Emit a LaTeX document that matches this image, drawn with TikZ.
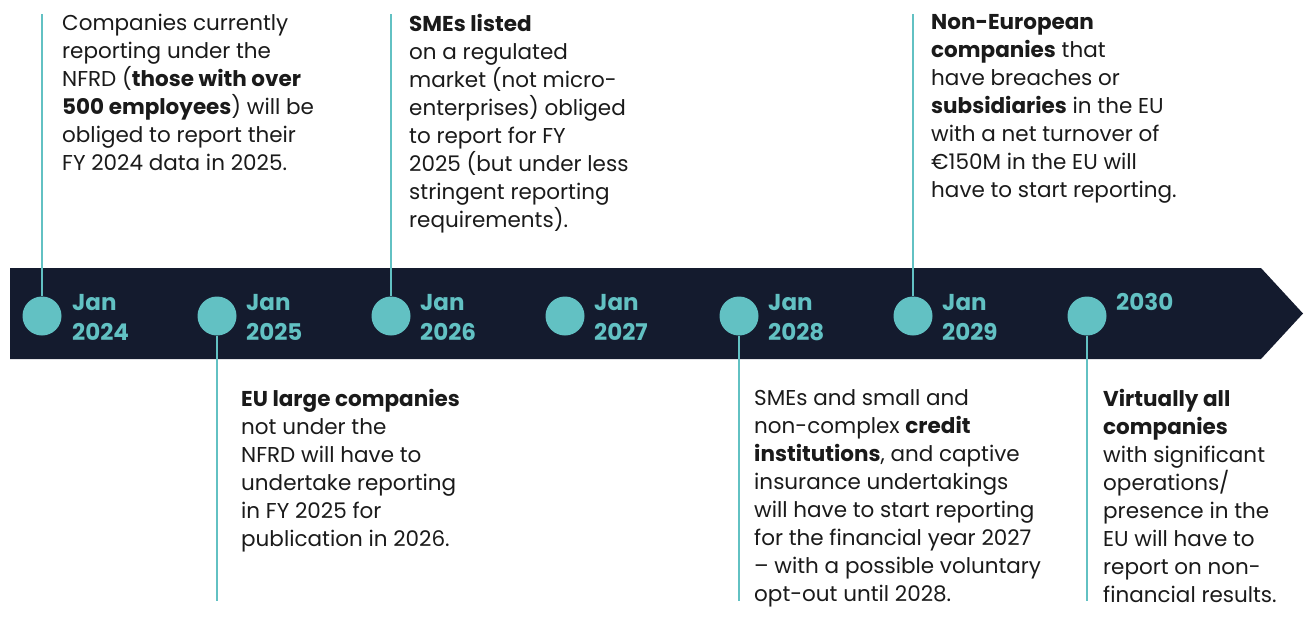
\documentclass[tikz,border=0pt]{standalone}
\usepackage{fontspec}
\setmainfont{Poppins}
\definecolor{navy}{HTML}{141B2E}
\definecolor{teal}{HTML}{62C1C3}
\definecolor{ink}{HTML}{1A1A1A}
\tikzset{
  bar/.style={fill=navy},
  dot/.style={circle,fill=teal,minimum size=39pt,inner sep=0},
  stem/.style={draw=teal,line width=2.5pt},
  year/.style={anchor=base west,align=left,inner sep=0,text=teal,
    font=\fontsize{23}{30}\selectfont\bfseries},
  note/.style={anchor=north west,align=left,inner sep=0,text=ink,
    font=\fontsize{21.5}{28}\selectfont}
}
\begin{document}
\begin{tikzpicture}[x=1pt,y=-1pt]
  \useasboundingbox (0,0) rectangle (1310,629);
  % fleche du temps
  \fill[bar] (10,268) -- (1261,268) -- (1303,313.5) -- (1261,359) -- (10,359) -- cycle;

  % points et annees
  \foreach \yr/\x in {2024/42,2025/217,2026/391,2027/565,2028/739,2029/913,2030/1087}
    \node[dot] (dot\yr) at (\x,316) {};
  \foreach \yr/\x in {2024/72,2025/246,2026/420,2027/594,2028/768,2029/942}
    \node[year] (lab\yr) at (\x,340) {Jan\\\yr};
  \node[year] (lab2030) at (1116,310) {2030};

  % tiges
  \coordinate (top2024) at (42,14);
  \coordinate (top2026) at (391,14);
  \coordinate (top2029) at (913,14);
  \coordinate (bot2025) at (217,601);
  \coordinate (bot2028) at (739,601);
  \coordinate (bot2030) at (1087,601);
  \draw[stem] (top2024) -- (dot2024);
  \draw[stem] (top2026) -- (dot2026);
  \draw[stem] (top2029) -- (dot2029);
  \draw[stem] (dot2025) -- (bot2025);
  \draw[stem] (dot2028) -- (bot2028);
  \draw[stem] (dot2030) -- (bot2030);

  % textes du haut
  \node[note] (txt2024) at (62,14) {Companies currently\\reporting under the\\NFRD (\textbf{those with over}\\\textbf{500 employees}) will be\\obliged to report their\\FY 2024 data in 2025.};
  \node[note] (txt2026) at (409,14) {\textbf{SMEs listed}\\on a regulated\\market (not micro-\\enterprises) obliged\\to report for FY\\2025 (but under less\\stringent reporting\\requirements).};
  \node[note] (txt2029) at (931,14) {\textbf{Non-European}\\\textbf{companies} that\\have breaches or\\\textbf{subsidiaries} in the EU\\with a net turnover of\\€150M in the EU will\\have to start reporting.};

  % textes du bas
  \node[note] (txt2025) at (241,389) {\textbf{EU large companies}\\not under the\\NFRD will have to\\undertake reporting\\in FY 2025 for\\publication in 2026.};
  \node[note] (txt2028) at (754,389) {SMEs and small and\\non-complex \textbf{credit}\\\textbf{institutions}, and captive\\insurance undertakings\\will have to start reporting\\for the financial year 2027\\– with a possible voluntary\\opt-out until 2028.};
  \node[note] (txt2030) at (1103,389) {\textbf{Virtually all}\\\textbf{companies}\\with significant\\operations/\\presence in the\\EU will have to\\report on non-\\financial results.};
\end{tikzpicture}
\end{document}
